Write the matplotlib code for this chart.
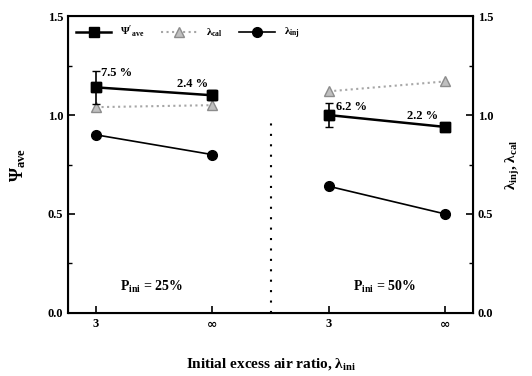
import matplotlib.pyplot as plt
from matplotlib.ticker import MultipleLocator

plt.rcParams['font.family'] = ['Liberation Serif', 'DejaVu Serif']
plt.rcParams['font.weight'] = 'bold'
plt.rcParams['axes.labelweight'] = 'bold'
plt.rcParams['mathtext.fontset'] = 'custom'
plt.rcParams['mathtext.rm'] = 'Liberation Serif:bold'
plt.rcParams['mathtext.it'] = 'Liberation Serif:bold'
plt.rcParams['mathtext.bf'] = 'Liberation Serif:bold'

x_labels = ["3", "\u221e", "3", "\u221e"]
x_left = [0, 1]
x_right = [2, 3]

psi_25 = [1.14, 1.10]
psi_25_err = [0.085, 0.026]
cal_25 = [1.04, 1.05]
inj_25 = [0.90, 0.80]

psi_50 = [1.00, 0.94]
psi_50_err = [0.062, 0.021]
cal_50 = [1.12, 1.17]
inj_50 = [0.64, 0.50]

err_text_25 = ["7.5 %", "2.4 %"]
err_text_50 = ["6.2 %", "2.2 %"]

fig = plt.figure(figsize=(5.32, 3.76), dpi=100)
ax = fig.add_axes([0.128, 0.168, 0.761, 0.789])

handles = []
for xs, psi, err, cal, inj in [(x_left, psi_25, psi_25_err, cal_25, inj_25),
                               (x_right, psi_50, psi_50_err, cal_50, inj_50)]:
    h_cal, = ax.plot(xs, cal, color='0.65', ls=':', lw=1.5, marker='^', ms=7,
                     mfc='0.75', mec='0.55')
    ax.errorbar(xs, psi, yerr=err, color='k', lw=1.8, marker='s', ms=7,
                capsize=3, elinewidth=1.2, ls='none')
    h_psi, = ax.plot(xs, psi, color='k', lw=1.8, marker='s', ms=7)
    h_inj, = ax.plot(xs, inj, color='k', lw=1.2, marker='o', ms=7)
    handles = [h_psi, h_cal, h_inj]

ax.axvline(1.5, ymin=0, ymax=0.65, color='k', ls=(0, (1, 4)), lw=1.5)

ax.text(x_left[0] + 0.04, psi_25[0] + 0.055, err_text_25[0], fontsize=9)
ax.text(x_left[1] - 0.04, psi_25[1] + 0.04, err_text_25[1], fontsize=9, ha='right')
ax.text(x_right[0] + 0.06, psi_50[0] + 0.025, err_text_50[0], fontsize=9)
ax.text(x_right[1] - 0.06, psi_50[1] + 0.04, err_text_50[1], fontsize=9, ha='right')

ax.text(0.48, 0.13, '$\\mathregular{P_{ini}}$ = 25%', fontsize=10, ha='center', va='center')
ax.text(2.48, 0.13, '$\\mathregular{P_{ini}}$ = 50%', fontsize=10, ha='center', va='center')

ax.set_xlim(-0.24, 3.24)
ax.set_ylim(0, 1.5)
ax.set_xticks([0, 1, 2, 3])
ax.set_xticklabels(x_labels, fontsize=10)
for lab in ax.get_xticklabels()[1::2]:
    lab.set_fontsize(15)
    lab.set_family(['DejaVu Sans'])
    lab.set_weight('bold')
ax.yaxis.set_major_locator(MultipleLocator(0.5))
ax.yaxis.set_minor_locator(MultipleLocator(0.25))
ax.tick_params(direction='in', length=5, width=1.2, labelsize=9)
ax.tick_params(which='minor', direction='in', length=3, width=1)
ax.set_yticks([0, 0.5, 1.0, 1.5])
ax.set_yticklabels(["0.0", "0.5", "1.0", "1.5"])
for s in ax.spines.values():
    s.set_linewidth(1.5)

ax2 = ax.twinx()
ax2.set_ylim(0, 1.5)
ax2.yaxis.set_major_locator(MultipleLocator(0.5))
ax2.yaxis.set_minor_locator(MultipleLocator(0.25))
ax2.set_yticks([0, 0.5, 1.0, 1.5])
ax2.set_yticklabels(["0.0", "0.5", "1.0", "1.5"])
ax2.tick_params(direction='in', length=5, width=1.2, labelsize=9)
ax2.tick_params(which='minor', direction='in', length=3, width=1)
ax2.set_ylabel('$\\lambda_{inj}$, $\\lambda_{cal}$', fontsize=11, labelpad=8)

ax.set_ylabel("$\\Psi_{ave}$", fontsize=13, labelpad=14)
ax.set_xlabel('Initial excess air ratio, $\\lambda_{ini}$', fontsize=11, labelpad=18)

ax.legend(handles, ["$\\Psi'_{ave}$", '$\\lambda_{cal}$', '$\\lambda_{inj}$'],
          loc='upper left', ncol=3, frameon=False, fontsize=8, handlelength=3.2,
          columnspacing=1.5, borderaxespad=0.3, bbox_to_anchor=(0.0, 1.0))

fig.savefig('out.png', dpi=100)
